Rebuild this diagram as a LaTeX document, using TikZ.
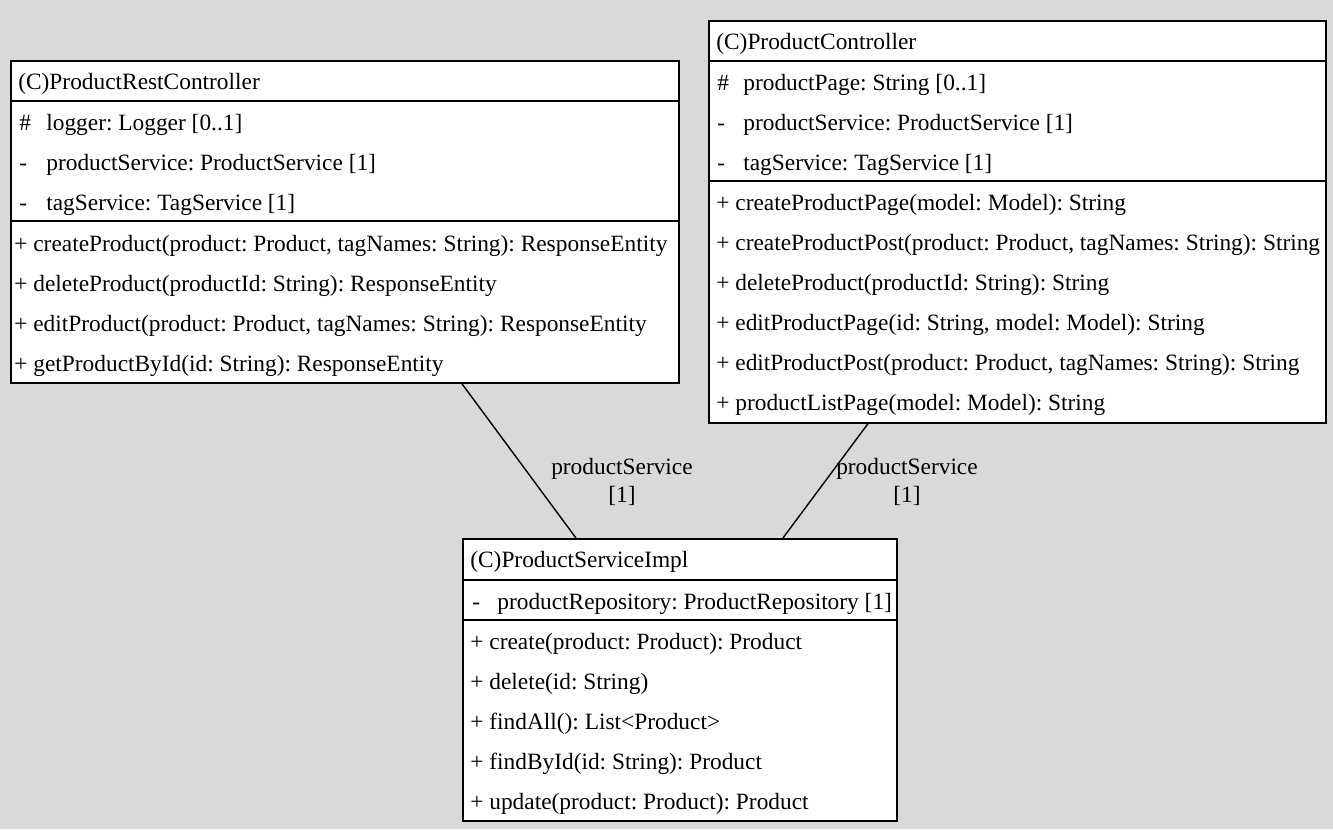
\documentclass[tikz,border=0pt]{standalone}
\usepackage{fontspec}
\setmainfont{Liberation Serif}
\usepackage{tikz}
\usetikzlibrary{arrows,shapes}
\frenchspacing
\tikzstyle{classbox}=[rectangle, draw, fill=white
,line width=1pt
,inner sep=0pt
,anchor=north west
]
\tikzstyle{member}=[anchor=base west, inner sep=0pt
,font=\fontsize{13.3}{16}\selectfont
]
\tikzstyle{role}=[align=center, inner sep=0pt
,font=\fontsize{13.3}{16pt}\selectfont
]
\tikzstyle{edge} = [draw,line width=0.8pt,-]
\tikzstyle{divider} = [draw,line width=1pt]

\begin{document}
\begin{tikzpicture}[x=0.02cm,y=-0.02cm]
    % Canvas
    \fill[gray!30] (0,0) rectangle (1333,829);
    \useasboundingbox (0,0) rectangle (1333,829);

    % First we draw the class boxes
    \node[classbox, minimum width=13.36cm, minimum height=6.44cm] (rest) at (10,60) {};
    \node[classbox, minimum width=12.34cm, minimum height=8.04cm] (ctrl) at (708,20) {};
    \node[classbox, minimum width=8.68cm, minimum height=5.64cm] (impl) at (462,538) {};

    % Compartment lines
    \foreach \cls/\y in {rest/101, rest/221, ctrl/61, ctrl/181, impl/580, impl/620}
        \path[divider] (\cls.west |- 0,\y) -- (\cls.east |- 0,\y);

    % (C)ProductRestController
    \node[member] (rest-name) at (18,89) {(C)ProductRestController};
    \foreach \y/\vis/\txt in {130/\#/{logger: Logger [0..1]}, 170/-/{productService: ProductService [1]}, 210/-/{tagService: TagService [1]}}
    {
        \node[member] at (19,\y) {\vis};
        \node[member] at (46,\y) {\txt};
    }
    \foreach \y/\txt in {251/{+ createProduct(product: Product, tagNames: String): ResponseEntity}, 291/{+ deleteProduct(productId: String): ResponseEntity}, 331/{+ editProduct(product: Product, tagNames: String): ResponseEntity}, 371/{+ getProductById(id: String): ResponseEntity}}
        \node[member] at (14,\y) {\txt};

    % (C)ProductController
    \node[member] (ctrl-name) at (716,49) {(C)ProductController};
    \foreach \y/\vis/\txt in {90/\#/{productPage: String [0..1]}, 130/-/{productService: ProductService [1]}, 170/-/{tagService: TagService [1]}}
    {
        \node[member] at (717,\y) {\vis};
        \node[member] at (743,\y) {\txt};
    }
    \foreach \y/\txt in {210/{+ createProductPage(model: Model): String}, 250/{+ createProductPost(product: Product, tagNames: String): String}, 290/{+ deleteProduct(productId: String): String}, 330/{+ editProductPage(id: String, model: Model): String}, 370/{+ editProductPost(product: Product, tagNames: String): String}, 410/{+ productListPage(model: Model): String}}
        \node[member] at (716,\y) {\txt};

    % (C)ProductServiceImpl
    \node[member] (impl-name) at (470,567) {(C)ProductServiceImpl};
    \node[member] at (472,609) {-};
    \node[member] at (497,609) {productRepository: ProductRepository [1]};
    \foreach \y/\txt in {649/{+ create(product: Product): Product}, 689/{+ delete(id: String)}, 729/{+ findAll(): List<Product>}, 769/{+ findById(id: String): Product}, 809/{+ update(product: Product): Product}}
        \node[member] at (470,\y) {\txt};

    % Connect classes with associations
    \path[edge] ([xshift=9.04cm]rest.south west) -- ([xshift=2.28cm]impl.north west);
    \path[edge] ([xshift=3.2cm]ctrl.south west) -- ([xshift=6.42cm]impl.north west);
    \node[role] (rest-role) at (622,482) {productService\\{}[1]};
    \node[role] (ctrl-role) at (907,482) {productService\\{}[1]};

\end{tikzpicture}
\end{document}
